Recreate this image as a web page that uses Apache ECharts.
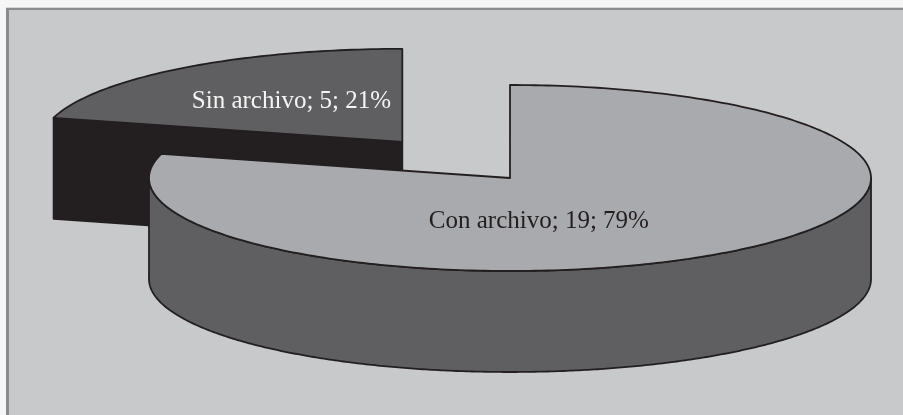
<!DOCTYPE html>
<html>
<head>
<meta charset="utf-8">
<script src="https://cdn.jsdelivr.net/npm/echarts@6/dist/echarts.min.js"></script>
<style>
html, body { margin: 0; padding: 0; background: #ffffff; }
#chart { width: 903px; height: 415px; }
</style>
</head>
<body>
<div id="chart"></div>
<script>
// data
const categories = ['Con archivo', 'Sin archivo'];
const values = [19, 5];

// look of the 3d pie
const topColors = ['#a9aaad', '#5f5f61'];
const sideColors = ['#5f5f61', '#231f20'];
const labelColors = ['#231f20', '#f4f4f4'];
const explode = [0, 0.49];          // fraction of radius
const labelPos = [[0.08, 0.47], [-0.307, -0.43]]; // offset from slice centre, fraction of rx / ry

const CX = 510, CY = 178, RX = 361, RY = 93, DEPTH = 101;
const EDGE = '#231f20';

const total = values.reduce((a, b) => a + b, 0);
let acc = 0;
const slices = values.map(v => {
    const a0 = 90 - acc / total * 360;
    acc += v;
    const a1 = 90 - acc / total * 360;
    return { a0, a1 };
});

const rad = d => d * Math.PI / 180;

function renderItem(params, api) {
    const i = params.dataIndex;
    const v = api.value(0);
    const { a0, a1 } = slices[i];
    const mid = rad((a0 + a1) / 2);
    const e = explode[i];
    const cx = CX + e * RX * Math.cos(mid);
    const cy = CY - e * RY * Math.sin(mid);
    const P = (deg, dz) => [cx + RX * Math.cos(rad(deg)), cy - RY * Math.sin(rad(deg)) + dz];
    const arc = (from, to, dz) => {
        const n = Math.max(2, Math.ceil(Math.abs(to - from)) + 1);
        const pts = [];
        for (let k = 0; k < n; k++) pts.push(P(from + (to - from) * k / (n - 1), dz));
        return pts;
    };
    const base = Math.round(cy) * 10;
    const children = [];
    const edgeStyle = { stroke: EDGE, lineWidth: 1.8, lineJoin: 'round' };

    // cut faces, only the ones turned towards the viewer
    [[a0, 90], [a1, -90]].forEach(([a, turn]) => {
        if (Math.sin(rad(a + turn)) < -1e-6) {
            children.push({
                type: 'polygon', z2: base + 1,
                shape: { points: [[cx, cy], P(a, 0), P(a, DEPTH), [cx, cy + DEPTH]] },
                style: Object.assign({ fill: sideColors[i] }, edgeStyle)
            });
        }
    });

    // outer curved side: front half only (sin < 0)
    let seg = [];
    const segs = [];
    for (let d = a1; d <= a0 + 1e-9; d += 0.5) {
        if (Math.sin(rad(d)) <= 0) seg.push(d);
        else if (seg.length) { segs.push(seg); seg = []; }
    }
    if (seg.length) segs.push(seg);
    segs.forEach(s => {
        if (s.length < 2) return;
        const topArc = s.map(d => P(d, 0));
        const botArc = s.map(d => P(d, DEPTH)).reverse();
        children.push({
            type: 'polygon', z2: base + 2,
            shape: { points: topArc.concat(botArc) },
            style: Object.assign({ fill: sideColors[i] }, edgeStyle)
        });
    });

    // top face
    children.push({
        type: 'polygon', z2: base + 3,
        shape: { points: [[cx, cy]].concat(arc(a0, a1, 0)) },
        style: Object.assign({ fill: topColors[i] }, edgeStyle)
    });

    // label
    children.push({
        type: 'text', z2: base + 4,
        style: {
            text: categories[i] + '; ' + v + '; ' + Math.round(v / total * 100) + '%',
            x: cx + labelPos[i][0] * RX,
            y: cy + labelPos[i][1] * RY,
            align: 'center', verticalAlign: 'middle',
            fill: labelColors[i],
            font: '25px "Liberation Serif", serif'
        }
    });

    return { type: 'group', children };
}

const chart = echarts.init(document.getElementById('chart'));
chart.setOption({
    animation: false,
    backgroundColor: '#c8c9cb',
    graphic: [
        { type: 'rect', z: -1, shape: { x: 0, y: 0, width: 903, height: 7 }, style: { fill: '#f6f6f6' } },
        { type: 'rect', z: -1, shape: { x: 0, y: 0, width: 6, height: 415 }, style: { fill: '#f6f6f6' } },
        { type: 'rect', z: -1, shape: { x: 6, y: 7, width: 897, height: 1 }, style: { fill: '#d6d6d7' } },
        { type: 'rect', z: -1, shape: { x: 6, y: 8, width: 897, height: 2 }, style: { fill: '#8b8b8e' } },
        { type: 'rect', z: -1, shape: { x: 6, y: 8, width: 3, height: 407 }, style: { fill: '#8b8b8e' } }
    ],
    series: [{
        type: 'custom',
        coordinateSystem: 'none',
        renderItem: renderItem,
        data: values.map((v, i) => ({ name: categories[i], value: [v] }))
    }]
});
window.onresize = () => { chart.resize() };
</script>
</body>
</html>
